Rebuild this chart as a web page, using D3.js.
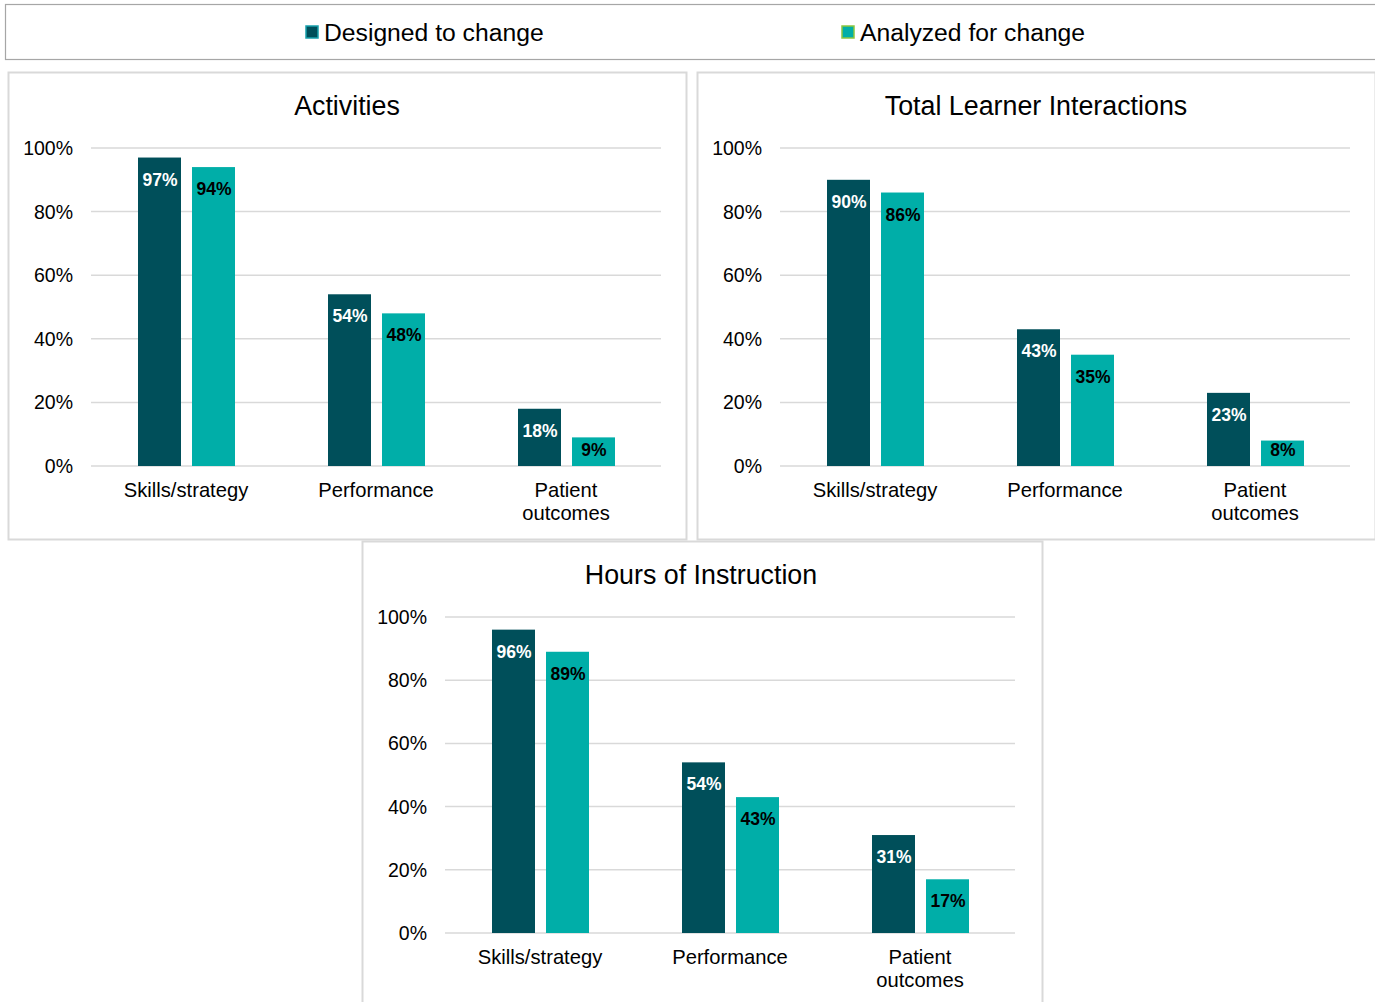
<!DOCTYPE html>
<html>
<head>
<meta charset="utf-8">
<script src="https://cdn.jsdelivr.net/npm/d3@7"></script>
<style>
  body { margin: 0; background: #fff; }
  text { font-family: "Liberation Sans", Arial, sans-serif; }
</style>
</head>
<body>
<svg id="chart" width="1375" height="1002"></svg>
<script>
// Data
var categories = ['Skills/strategy', 'Performance', 'Patient outcomes'];
var seriesNames = ['Designed to change', 'Analyzed for change'];
var panelTitles = ['Activities', 'Total Learner Interactions', 'Hours of Instruction'];
var activitiesValues = [[97, 94], [54, 48], [18, 9]];
var interactionsValues = [[90, 86], [43, 35], [23, 8]];
var hoursValues = [[96, 89], [54, 43], [31, 17]];
var yTicks = [0, 20, 40, 60, 80, 100];

var colors = ['#004f5a', '#00aea8'],
    legendBorders = ['#16a0ac', '#8cc63f'],
    labelColors = ['#fff', '#000'];

var svg = d3.select('#chart');

// Legend box
svg.append('rect')
  .attr('x', 5.5).attr('y', 4.5).attr('width', 1375).attr('height', 55)
  .attr('fill', '#fff').attr('stroke', '#a6a6a6').attr('stroke-width', 1.2);

var legendX = [306, 842];
seriesNames.forEach(function(name, i) {
  svg.append('rect')
    .attr('x', legendX[i]).attr('y', 26).attr('width', 12).attr('height', 12)
    .attr('fill', colors[i]).attr('stroke', legendBorders[i]).attr('stroke-width', 1.5);
  svg.append('text')
    .attr('x', legendX[i] + 18).attr('y', 41)
    .attr('font-size', 24.7).attr('fill', '#000')
    .text(name);
});

// Panels
var panels = [
  { x: 8, y: 72, w: 678, h: 467, plotLeft: 91, top: 148, bottom: 466, values: activitiesValues },
  { x: 697, y: 72, w: 678, h: 467, plotLeft: 780, top: 148, bottom: 466, values: interactionsValues },
  { x: 362, y: 541, w: 680, h: 470, plotLeft: 445, top: 617, bottom: 933, values: hoursValues }
];

function drawPanel(p, idx) {
  var g = svg.append('g');

  g.append('rect')
    .attr('x', p.x + 0.5).attr('y', p.y + 0.5).attr('width', p.w).attr('height', p.h)
    .attr('fill', '#fff').attr('stroke', '#d9d9d9').attr('stroke-width', 2);

  g.append('text')
    .attr('x', p.plotLeft + 256).attr('y', p.y + 43)
    .attr('text-anchor', 'middle').attr('font-size', 26.8).attr('fill', '#000')
    .text(panelTitles[idx]);

  var x = d3.scaleBand().domain(categories).range([p.plotLeft, p.plotLeft + 570]);
  var y = d3.scaleLinear().domain([0, 100]).range([p.bottom, p.top]);

  // gridlines
  g.selectAll('.grid')
    .data(yTicks)
    .enter().append('line')
      .attr('x1', p.plotLeft).attr('x2', p.plotLeft + 570)
      .attr('y1', function(d) { return y(d); })
      .attr('y2', function(d) { return y(d); })
      .attr('stroke', '#d9d9d9').attr('stroke-width', 1.5);

  // y tick labels
  g.selectAll('.ytick')
    .data(yTicks)
    .enter().append('text')
      .attr('x', p.plotLeft - 18)
      .attr('y', function(d) { return y(d) + 7; })
      .attr('text-anchor', 'end').attr('font-size', 19.5).attr('fill', '#000')
      .text(function(d) { return d + '%'; });

  // category labels
  categories.forEach(function(c) {
    var cx = x(c) + x.bandwidth() / 2;
    var words = c === 'Patient outcomes' ? ['Patient', 'outcomes'] : [c];
    words.forEach(function(w, j) {
      g.append('text')
        .attr('x', cx).attr('y', p.bottom + 31 + j * 23)
        .attr('text-anchor', 'middle').attr('font-size', 20.2).attr('fill', '#000')
        .text(w);
    });
  });

  // bars
  var barW = 43;
  var offsets = [-48, 6];
  p.values.forEach(function(pair, ci) {
    var cx = x(categories[ci]) + x.bandwidth() / 2;
    pair.forEach(function(v, si) {
      var bx = cx + offsets[si];
      g.append('rect')
        .attr('x', bx).attr('y', y(v))
        .attr('width', barW).attr('height', y(0) - y(v))
        .attr('fill', colors[si]);
      g.append('text')
        .attr('x', bx + barW / 2 + 0.5).attr('y', Math.min(y(v) + 28, y(0) - 10))
        .attr('text-anchor', 'middle').attr('font-size', 17.5).attr('font-weight', 'bold')
        .attr('fill', labelColors[si])
        .text(v + '%');
    });
  });
}

panels.forEach(drawPanel);
</script>
</body>
</html>
